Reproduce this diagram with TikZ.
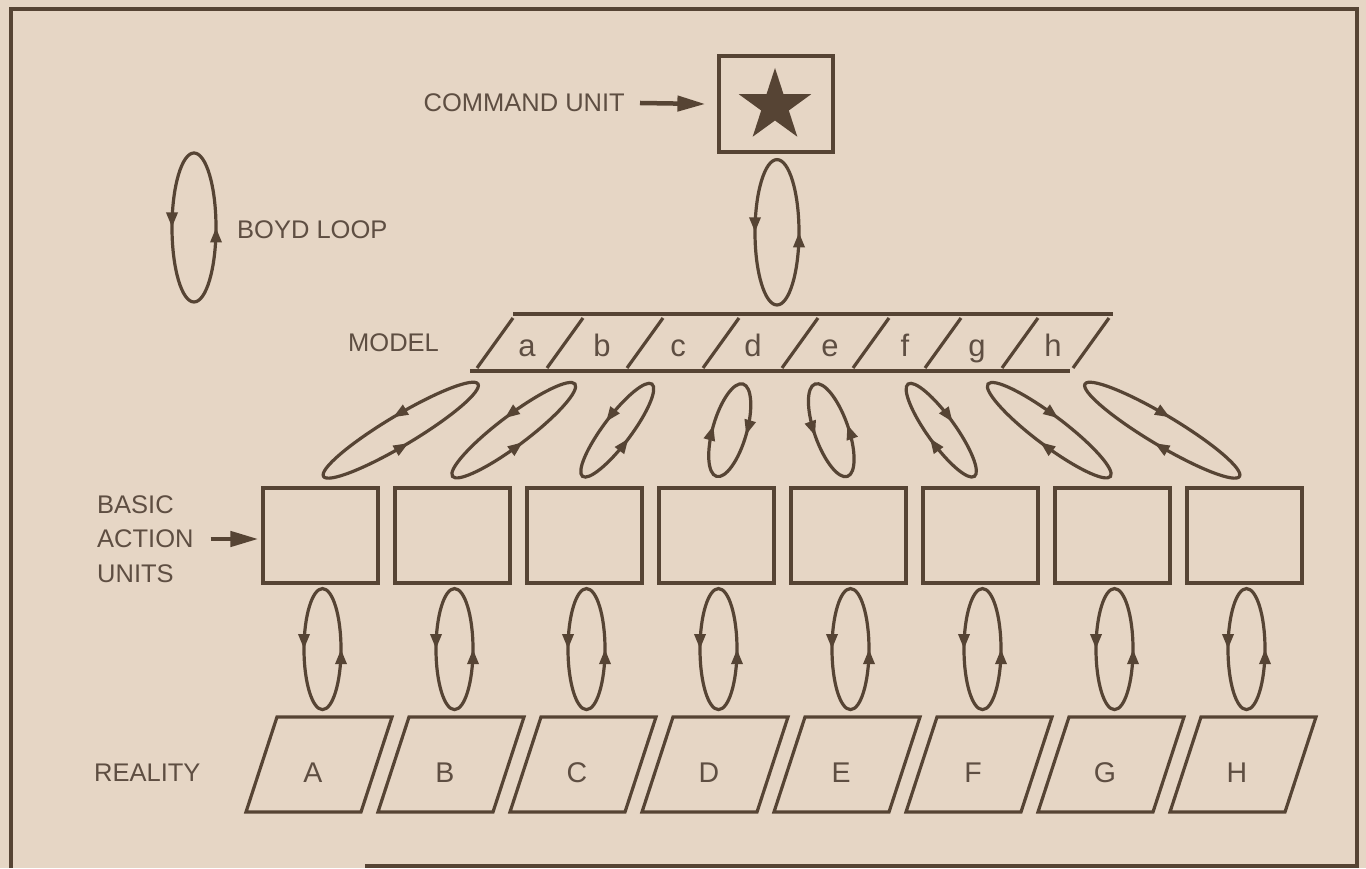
\documentclass[tikz,border=0pt]{standalone}
\usepackage{fontspec}
\setmainfont{Liberation Sans}
\usetikzlibrary{arrows.meta,calc,decorations.markings,shapes.geometric}
\definecolor{bg}{HTML}{E6D6C5}
\definecolor{ink}{HTML}{564434}
\definecolor{txt}{HTML}{5E4E42}
\tikzset{
  looptip/.tip={Triangle[length=15pt,width=11pt]},
  bigtip/.tip={Triangle[length=28pt,width=15pt]},
  lbl/.style={text=txt, font=\fontsize{25.5}{34.5}\selectfont, inner sep=0pt},
  mlet/.style={text=txt, font=\fontsize{31}{34}\selectfont, inner sep=0pt},
  rlet/.style={text=txt, font=\fontsize{28.5}{34}\selectfont, inner sep=0pt},
  unitbox/.style={draw=ink, line width=3.2pt, minimum width=115pt, minimum height=95pt, inner sep=0pt},
  edge/.style={draw=ink, line width=3.2pt, line join=miter},
  bigarrow/.style={draw=ink, line width=4.5pt, -bigtip},
  ccw/.style={draw=ink, line width=3.2pt, postaction={decorate, decoration={markings,
      mark=at position 0.25 with {\arrow{looptip}},
      mark=at position 0.75 with {\arrow{looptip}}}}},
  cw/.style={draw=ink, line width=3.2pt, postaction={decorate, decoration={markings,
      mark=at position 0.25 with {\arrowreversed{looptip}},
      mark=at position 0.75 with {\arrowreversed{looptip}}}}},
}
% #1 lower end, #2 upper end, #3 half width (pt), #4 style
\newcommand\boydloop[4]{%
  \draw[#4] let \p1=#1, \p2=#2, \n1={atan2(\y2-\y1,\x2-\x1)},
    \n2={veclen(\x2-\x1,\y2-\y1)/2} in
    [shift={($(\p1)!0.5!(\p2)$)}, rotate=\n1] (0,0) ellipse [x radius=\n2, y radius=#3pt];}
\begin{document}
\begin{tikzpicture}[x=1pt,y=1pt]
\useasboundingbox (0,0) rectangle (1366,868);
\fill[bg] (0,0) rectangle (1366,868);
% frame
\draw[ink, line width=4pt] (11,0) -- (11,859) -- (1357,859) -- (1357,2) -- (365,2);

% command unit
\node[draw=ink, line width=3.2pt, minimum width=114pt, minimum height=96pt, inner sep=0pt] (cmd) at (776,764) {};
\node[star, star points=5, star point ratio=2.618, fill=ink, minimum size=76pt, inner sep=0pt] (star) at (775,762) {};
\node[lbl, anchor=east] (cmdlbl) at (625,765) {COMMAND UNIT};
\draw[bigarrow] ([xshift=15pt]cmdlbl.east) -- ([xshift=-12pt]cmd.west);

% legend
\coordinate (legL) at (194,566);
\coordinate (legU) at (194,715);
\boydloop{(legL)}{(legU)}{22}{ccw}
\node[lbl, anchor=west] (legend) at (237,638) {BOYD LOOP};

% model bar
\node[lbl, anchor=west] (modellbl) at (348,525) {MODEL};
\draw[edge, line width=3.6pt] (513,554) -- (1113,554);
\draw[edge, line width=3.6pt] (470,497) -- (1070,497);
\foreach \xb in {477,547,627,703,782,853,925,1002,1073}
  \draw[edge] (\xb,500) -- ++(36,50);
\foreach \l/\x in {a/527,b/602,c/678,d/753,e/830,f/905,g/977,h/1053}
  \node[mlet, anchor=base] (m\l) at (\x,511) {\l};
\coordinate (mtop) at (777,563);
\boydloop{(mtop)}{($(cmd.south)+(1,-6)$)}{22}{ccw}

% model loop ends
\coordinate (ea) at (478,484);
\coordinate (eb) at (575,484);
\coordinate (ec) at (652,484);
\coordinate (ed) at (743,484);
\coordinate (ee) at (815,484);
\coordinate (ef) at (908,484);
\coordinate (eg) at (988,484);
\coordinate (eh) at (1085,484);

% basic action units
\foreach \i in {1,...,8}
  \node[unitbox] (u\i) at ({320.5+132*(\i-1)},332.5) {};
\node[lbl, anchor=west, align=left] (basic) at (97,329) {BASIC\\ACTION\\UNITS};
\draw[bigarrow] ([xshift=17pt]basic.east) -- ($(u1.west |- basic.east)+(-3,0)$);

\boydloop{($(u1.north)+(3,10)$)}{(ea)}{15}{ccw}
\boydloop{($(u2.north)+(0,10)$)}{(eb)}{15}{ccw}
\boydloop{($(u3.north)+(-2,10)$)}{(ec)}{14}{ccw}
\boydloop{($(u4.north)+(0,10)$)}{(ed)}{17}{cw}
\boydloop{($(u5.north)+(-1,10)$)}{(ee)}{17}{ccw}
\boydloop{($(u6.north)+(-6,10)$)}{(ef)}{14}{cw}
\boydloop{($(u7.north)+(-2,10)$)}{(eg)}{15}{cw}
\boydloop{($(u8.north)+(-5,10)$)}{(eh)}{15}{cw}

% reality
\node[lbl, anchor=west] (reallbl) at (94,95) {REALITY};
\foreach \i/\L in {1/A,2/B,3/C,4/D,5/E,6/F,7/G,8/H}{
  \draw[edge] ({246+132*(\i-1)},56) -- ++(115,0) -- ++(31,95) -- ++(-115,0) -- cycle;
  \node[rlet, anchor=base] (r\i) at ({313+132*(\i-1)},85) {\L};
  \boydloop{($(u\i.south)+(2,-125)$)}{($(u\i.south)+(2,-4)$)}{18.5}{ccw}
}
\end{tikzpicture}
\end{document}
